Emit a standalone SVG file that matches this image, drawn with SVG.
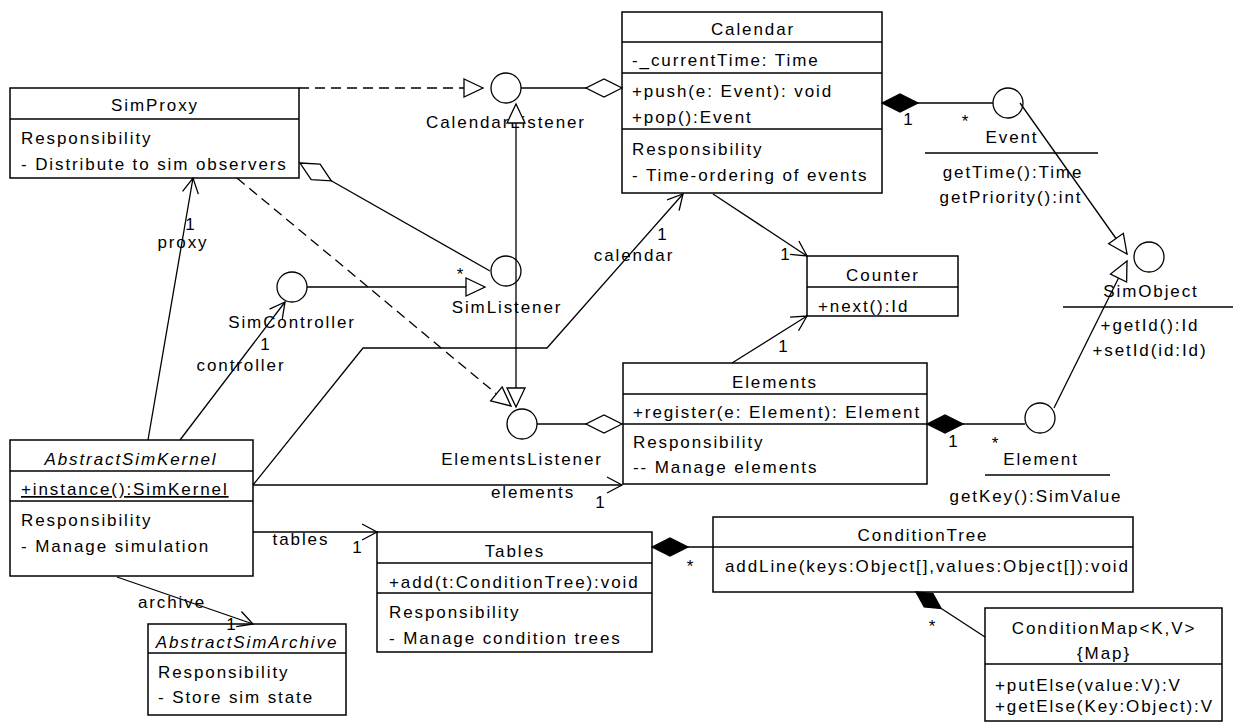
<svg xmlns="http://www.w3.org/2000/svg" width="1233" height="726" viewBox="0 0 1233 726">
  <style>
    .box { fill: #fff; stroke: #000; stroke-width: 1.5; }
    .sep { stroke: #000; stroke-width: 1.5; }
    .ifc { fill: #fff; stroke: #000; stroke-width: 1.3; }
    .ln { fill: none; stroke: #000; stroke-width: 1.3; }
    .dash { stroke-dasharray: 10 6; }
    text { font-family: "Liberation Sans", Arial, sans-serif; font-size: 17px; letter-spacing: 1.9px; fill: #000; }
    .c { text-anchor: middle; }
    .i { font-style: italic; }
    .u { text-decoration: underline; }
  </style>
  <defs>
    <marker id="open" markerUnits="userSpaceOnUse" viewBox="-18 -10 20 20" markerWidth="20" markerHeight="20" refX="0" refY="0" orient="auto" overflow="visible">
      <path d="M-15,-8 L0,0 L-15,8" fill="none" stroke="#000" stroke-width="1.3"/>
    </marker>
    <marker id="tri" markerUnits="userSpaceOnUse" viewBox="-22 -12 24 24" markerWidth="24" markerHeight="24" refX="0" refY="0" orient="auto" overflow="visible">
      <path d="M0,0 L-19,-9 L-19,9 Z" fill="#fff" stroke="#000" stroke-width="1.3"/>
    </marker>
    <marker id="dia" markerUnits="userSpaceOnUse" viewBox="-2 -12 42 24" markerWidth="42" markerHeight="24" refX="0" refY="0" orient="auto" overflow="visible">
      <path d="M0,0 L18,-9 L36,0 L18,9 Z" fill="#fff" stroke="#000" stroke-width="1.3"/>
    </marker>
    <marker id="comp" markerUnits="userSpaceOnUse" viewBox="-2 -12 42 24" markerWidth="42" markerHeight="24" refX="0" refY="0" orient="auto" overflow="visible">
      <path d="M0,0 L18,-9 L36,0 L18,9 Z" fill="#000" stroke="#000" stroke-width="1.3"/>
    </marker>
    <marker id="comp2" markerUnits="userSpaceOnUse" viewBox="-2 -12 36 24" markerWidth="36" markerHeight="24" refX="0" refY="0" orient="auto" overflow="visible">
      <path d="M0,0 L15,-8 L30,0 L15,8 Z" fill="#000" stroke="#000" stroke-width="1.3"/>
    </marker>
  </defs>
  <rect width="1233" height="726" fill="#fff"/>

  <!-- classes -->
  <g id="SimProxy">
    <rect class="box" x="10" y="88" width="289" height="90"/>
    <line class="sep" x1="10" y1="119" x2="299" y2="119"/>
    <text class="c" x="155" y="111">SimProxy</text>
    <text x="21" y="144">Responsibility</text>
    <text x="21" y="170">- Distribute to sim observers</text>
  </g>

  <g id="Calendar">
    <rect class="box" x="622" y="12" width="260" height="181"/>
    <line class="sep" x1="622" y1="42" x2="882" y2="42"/>
    <line class="sep" x1="622" y1="73" x2="882" y2="73"/>
    <line class="sep" x1="622" y1="129" x2="882" y2="129"/>
    <text class="c" x="753" y="35">Calendar</text>
    <text x="632" y="66">-_currentTime: Time</text>
    <text x="632" y="97">+push(e: Event): void</text>
    <text x="632" y="123">+pop():Event</text>
    <text x="632" y="155">Responsibility</text>
    <text x="632" y="181">- Time-ordering of events</text>
  </g>

  <g id="Counter">
    <rect class="box" x="807" y="256" width="151" height="60"/>
    <line class="sep" x1="807" y1="287" x2="958" y2="287"/>
    <text class="c" x="883" y="281">Counter</text>
    <text x="818" y="312">+next():Id</text>
  </g>

  <g id="Elements">
    <rect class="box" x="623" y="363" width="304" height="121"/>
    <line class="sep" x1="623" y1="394" x2="927" y2="394"/>
    <line class="sep" x1="623" y1="424" x2="927" y2="424"/>
    <text class="c" x="775" y="388">Elements</text>
    <text x="633" y="418">+register(e: Element): Element</text>
    <text x="633" y="448">Responsibility</text>
    <text x="633" y="473">-- Manage elements</text>
  </g>

  <g id="AbstractSimKernel">
    <rect class="box" x="10" y="440" width="243" height="136"/>
    <line class="sep" x1="10" y1="471" x2="253" y2="471"/>
    <line class="sep" x1="10" y1="501" x2="253" y2="501"/>
    <text class="c i" x="131" y="465">AbstractSimKernel</text>
    <text class="u" x="21" y="495">+instance():SimKernel</text>
    <text x="21" y="526">Responsibility</text>
    <text x="21" y="552">- Manage simulation</text>
  </g>

  <g id="AbstractSimArchive">
    <rect class="box" x="148" y="624" width="198" height="91"/>
    <line class="sep" x1="148" y1="653" x2="346" y2="653"/>
    <text class="c i" x="247" y="648">AbstractSimArchive</text>
    <text x="158" y="678">Responsibility</text>
    <text x="158" y="703">- Store sim state</text>
  </g>

  <g id="Tables">
    <rect class="box" x="377" y="532" width="275" height="120"/>
    <line class="sep" x1="377" y1="563" x2="652" y2="563"/>
    <line class="sep" x1="377" y1="593" x2="652" y2="593"/>
    <text class="c" x="515" y="557">Tables</text>
    <text x="389" y="588">+add(t:ConditionTree):void</text>
    <text x="389" y="618">Responsibility</text>
    <text x="389" y="644">- Manage condition trees</text>
  </g>

  <g id="ConditionTree">
    <rect class="box" x="713" y="517" width="420" height="75"/>
    <line class="sep" x1="713" y1="547" x2="1133" y2="547"/>
    <text class="c" x="923" y="541">ConditionTree</text>
    <text x="725" y="572">addLine(keys:Object[],values:Object[]):void</text>
  </g>

  <g id="ConditionMap">
    <rect class="box" x="985" y="608" width="237" height="113"/>
    <line class="sep" x1="985" y1="664" x2="1222" y2="664"/>
    <text class="c" x="1104" y="634">ConditionMap&lt;K,V&gt;</text>
    <text class="c" x="1104" y="659">{Map}</text>
    <text x="995" y="691">+putElse(value:V):V</text>
    <text x="995" y="712">+getElse(Key:Object):V</text>
  </g>

  <!-- interfaces (lollipop notation) -->
  <g id="CalendarListener">
    <circle class="ifc" cx="506" cy="88" r="15"/>
    <text class="c" x="506" y="128">CalendarListener</text>
  </g>

  <g id="SimListener">
    <circle class="ifc" cx="506" cy="271" r="15"/>
    <text class="c" x="507" y="313">SimListener</text>
  </g>

  <g id="SimController">
    <circle class="ifc" cx="292" cy="287" r="15"/>
    <text class="c" x="292" y="328">SimController</text>
  </g>

  <g id="ElementsListener">
    <circle class="ifc" cx="522" cy="424" r="15"/>
    <text class="c" x="522" y="465">ElementsListener</text>
  </g>

  <g id="Event">
    <circle class="ifc" cx="1008" cy="103" r="15"/>
    <text class="c" x="1012" y="143">Event</text>
    <line class="sep" x1="925" y1="153" x2="1098" y2="153"/>
    <text class="c" x="1013" y="178">getTime():Time</text>
    <text class="c" x="1011" y="203">getPriority():int</text>
  </g>

  <g id="SimObject">
    <circle class="ifc" cx="1149" cy="257" r="15"/>
    <text class="c" x="1151" y="297">SimObject</text>
    <line class="sep" x1="1063" y1="307" x2="1233" y2="307"/>
    <text class="c" x="1150" y="331">+getId():Id</text>
    <text class="c" x="1150" y="356">+setId(id:Id)</text>
  </g>

  <g id="Element">
    <circle class="ifc" cx="1040" cy="418" r="15"/>
    <text class="c" x="1041" y="465">Element</text>
    <line class="sep" x1="985" y1="475" x2="1110" y2="475"/>
    <text class="c" x="1036" y="502">getKey():SimValue</text>
  </g>

  <!-- connectors -->
  <g id="connectors">
    <path class="ln dash" d="M299,88 L483,88" marker-end="url(#tri)"/>
    <path class="ln" d="M622,88 L521,88" marker-start="url(#dia)"/>
    <path class="ln" d="M516,271 L516,104" marker-end="url(#tri)"/>
    <path class="ln" d="M516,271 L516,407" marker-end="url(#tri)"/>
    <path class="ln" d="M300,163 L490,271" marker-start="url(#dia)"/>
    <path class="ln dash" d="M237,178 L511,406" marker-end="url(#tri)"/>
    <path class="ln" d="M307,287 L485,287" marker-end="url(#tri)"/>
    <path class="ln" d="M148,440 L193,178" marker-end="url(#open)"/>
    <path class="ln" d="M180,440 L285,302" marker-end="url(#open)"/>
    <path class="ln" d="M253,485 L363,348 L547,348 L683,194" marker-end="url(#open)"/>
    <path class="ln" d="M253,485 L622,485" marker-end="url(#open)"/>
    <path class="ln" d="M253,532 L377,532" marker-end="url(#open)"/>
    <path class="ln" d="M117,577 L253,624" marker-end="url(#open)"/>
    <path class="ln" d="M713,194 L807,256" marker-end="url(#open)"/>
    <path class="ln" d="M732,363 L807,316" marker-end="url(#open)"/>
    <path class="ln" d="M622,424 L537,424" marker-start="url(#dia)"/>
    <path class="ln" d="M882,103 L993,103" marker-start="url(#comp)"/>
    <path class="ln" d="M927,424 L1025,424" marker-start="url(#comp)"/>
    <path class="ln" d="M1020,103 L1127,254" marker-end="url(#tri)"/>
    <path class="ln" d="M1054,408 L1127,261" marker-end="url(#tri)"/>
    <path class="ln" d="M652,547 L713,547" marker-start="url(#comp)"/>
    <path class="ln" d="M916,592 L985,637" marker-start="url(#comp2)"/>

    <!-- role names and multiplicities -->
    <text class="c" x="191" y="230">1</text>
    <text class="c" x="183" y="248">proxy</text>
    <text class="c" x="461" y="280">*</text>
    <text class="c" x="266" y="350">1</text>
    <text class="c" x="241" y="371">controller</text>
    <text class="c" x="663" y="240">1</text>
    <text class="c" x="634" y="261">calendar</text>
    <text class="c" x="786" y="260">1</text>
    <text class="c" x="784" y="352">1</text>
    <text class="c" x="533" y="498">elements</text>
    <text class="c" x="601" y="508">1</text>
    <text class="c" x="301" y="545">tables</text>
    <text class="c" x="358" y="553">1</text>
    <text class="c" x="172" y="608">archive</text>
    <text class="c" x="232" y="630">1</text>
    <text class="c" x="909" y="125">1</text>
    <text class="c" x="966" y="127">*</text>
    <text class="c" x="954" y="447">1</text>
    <text class="c" x="996" y="449">*</text>
    <text class="c" x="691" y="572">*</text>
    <text class="c" x="933" y="632">*</text>
  </g>
</svg>
